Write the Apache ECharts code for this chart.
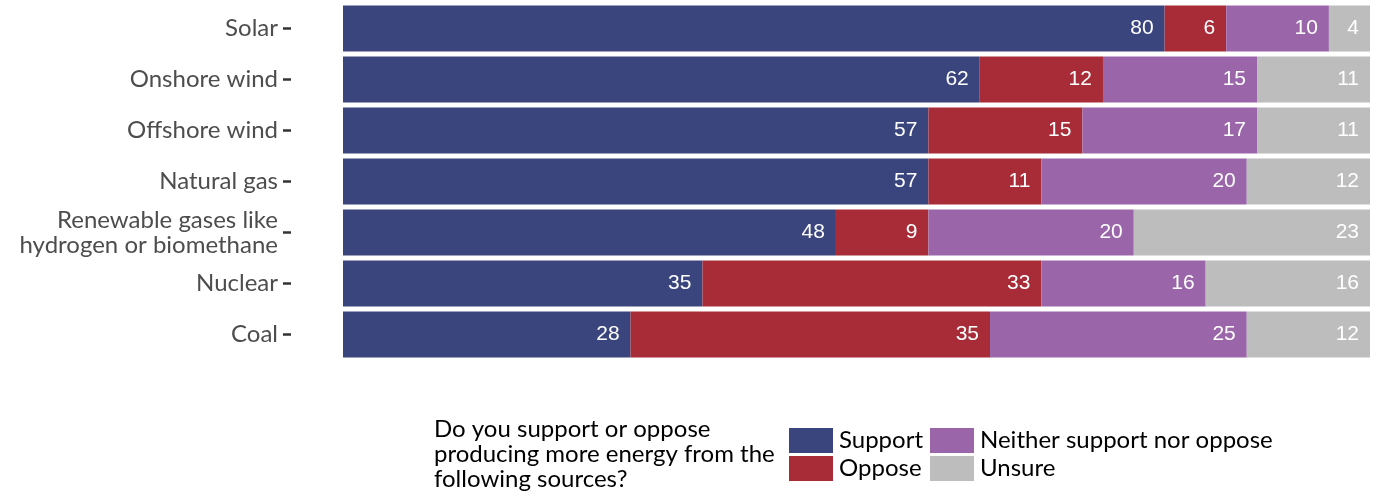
<!DOCTYPE html>
<html>
<head>
<meta charset="utf-8">
<script src="https://cdn.jsdelivr.net/npm/echarts@6/dist/echarts.min.js"></script>
<style>html,body{margin:0;padding:0;background:#fff;}#chart{width:1379px;height:497px;}</style>
</head>
<body>
<div id="chart"></div>
<script>
const categories = ['Solar', 'Onshore wind', 'Offshore wind', 'Natural gas', 'Renewable gases like\nhydrogen or biomethane', 'Nuclear', 'Coal'];
const seriesNames = ['Support', 'Oppose', 'Neither support nor oppose', 'Unsure'];
const support = [80, 62, 57, 57, 48, 35, 28];
const oppose = [6, 12, 15, 11, 9, 33, 35];
const neither = [10, 15, 17, 20, 20, 16, 25];
const unsure = [4, 11, 11, 12, 23, 16, 12];
const colors = ['#3a457d', '#a72c37', '#9a66a9', '#bdbdbd'];
const legendTitle = 'Do you support or oppose\nproducing more energy from the\nfollowing sources?';

const values = [support, oppose, neither, unsure];
const labelFont = 'Lato, "Noto Sans", sans-serif';

const chart = echarts.init(document.getElementById('chart'), null, {renderer: 'canvas'});
chart.setOption({
  animation: false,
  grid: {left: 343, right: 9, top: 3, bottom: 137},
  xAxis: {type: 'value', min: 0, max: 100, show: false},
  yAxis: {
    type: 'category', data: categories, inverse: true,
    axisLine: {show: false},
    axisTick: {show: true, alignWithLabel: true, length: 60,
               lineStyle: {color: '#333', width: 2.5, type: [8, 52], dashOffset: 8, cap: 'butt'}},
    axisLabel: {margin: 65, color: '#4d4d4d', fontSize: 24, fontFamily: labelFont, lineHeight: 25}
  },
  legend: [
    {data: ['Support', 'Oppose'], orient: 'vertical', left: 789, top: 428, padding: 0, itemWidth: 44, itemHeight: 25, itemGap: 3,
     icon: 'rect', textStyle: {fontSize: 24, color: '#000', fontFamily: labelFont, padding: [0, 0, 0, 1]}, selectedMode: false},
    {data: ['Neither support nor oppose', 'Unsure'], orient: 'vertical', left: 930, top: 428, padding: 0, itemWidth: 44, itemHeight: 25, itemGap: 3,
     icon: 'rect', textStyle: {fontSize: 24, color: '#000', fontFamily: labelFont, padding: [0, 0, 0, 1]}, selectedMode: false}
  ],
  title: {text: legendTitle, left: 434, top: 417, padding: 0,
          textStyle: {fontSize: 24, fontWeight: 'normal', color: '#000', fontFamily: labelFont, lineHeight: 25}},
  series: seriesNames.map((name, i) => ({
    name, type: 'bar', stack: 'total', data: values[i], barCategoryGap: '10%',
    itemStyle: {color: colors[i]},
    label: {show: true, position: 'insideRight', distance: 11, color: '#fff', fontSize: 21,
            fontFamily: '"Liberation Sans", Arial, sans-serif'}
  }))
});
</script>
</body>
</html>
